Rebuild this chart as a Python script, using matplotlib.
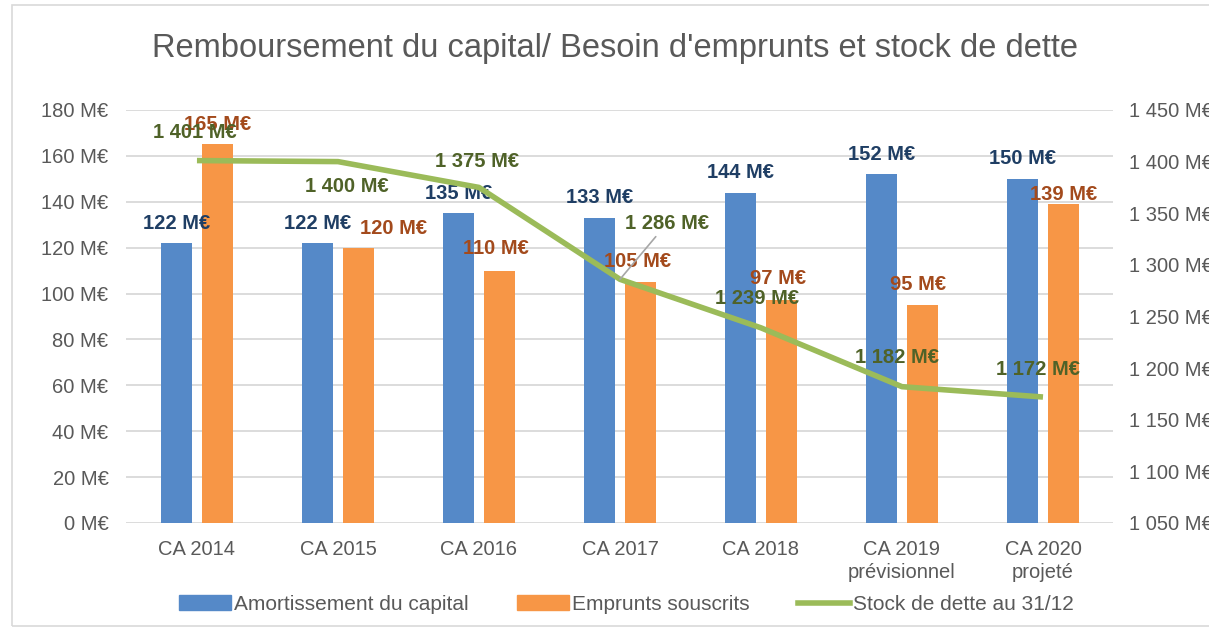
import matplotlib.pyplot as plt
from matplotlib.patches import Patch, Rectangle
from matplotlib.lines import Line2D

plt.rcParams['font.family'] = ['Liberation Sans', 'DejaVu Sans']

categories = ['CA 2014', 'CA 2015', 'CA 2016', 'CA 2017', 'CA 2018',
              'CA 2019\nprévisionnel', 'CA 2020\nprojeté']
amortissement = [122, 122, 135, 133, 144, 152, 150]
emprunts = [165, 120, 110, 105, 97, 95, 139]
stock = [1401, 1400, 1375, 1286, 1239, 1182, 1172]

# label offsets in pixels (dx, dy) relative to the mark top / point
emp_offsets = [(0, 20), (35, 19), (-3, 22), (-3, 21), (-3, 22), (-4, 21), (0, 10)]
stock_offsets = [(-2, 28), (9, -25), (-2, 26), (47, 56), (-4, 29), (-5, 29), (-5, 28)]

blue = '#5589C8'
orange = '#F79646'
green = '#9BBB59'

fig = plt.figure(figsize=(12.09, 6.27), dpi=100)
fig.patches.append(Rectangle((12 / 1209, 1 / 627), 1.1, 621 / 627,
                             transform=fig.transFigure, fill=False,
                             edgecolor='#D9D9D9', linewidth=1.2))

ax = fig.add_axes([0.1046, 0.1659, 0.8164, 0.6587])
ax2 = ax.twinx()

x = list(range(len(categories)))
w = 0.22
off = 0.145
xb = [i - off for i in x]
xo = [i + off for i in x]
ax.bar(xb, amortissement, width=w, color=blue, zorder=2)
ax.bar(xo, emprunts, width=w, color=orange, zorder=2)

ax.set_xlim(-0.5, len(categories) - 0.5)
ax.set_ylim(0, 180)
ax.set_yticks(range(0, 181, 20))
ax.set_yticklabels([f'{v} M€' for v in range(0, 181, 20)])
ax.yaxis.grid(True, color='#D9D9D9', linewidth=1.3, zorder=0)
ax.set_axisbelow(True)
ax.set_xticks(x)
ax.set_xticklabels(categories, linespacing=1.3)
ax.tick_params(axis='both', length=0, labelsize=14.5, colors='#595959')
ax.tick_params(axis='y', pad=13)
ax.tick_params(axis='x', pad=12)
for s in ax.spines.values():
    s.set_visible(False)

ax2.plot(x, stock, color=green, linewidth=4, solid_capstyle='butt', zorder=3)
ax2.set_ylim(1050, 1450)
ax2.set_yticks(range(1050, 1451, 50))
ax2.set_yticklabels([f'{v // 1000} {v % 1000:03d} M€' for v in range(1050, 1451, 50)])
ax2.tick_params(axis='y', length=0, labelsize=14.5, colors='#595959', pad=11)
for s in ax2.spines.values():
    s.set_visible(False)

px = 72 / 100
lab = dict(fontsize=14.5, fontweight='bold', ha='center', va='center',
           textcoords='offset points')
for xi, v in zip(xb, amortissement):
    ax.annotate(f'{v} M€', (xi, v), xytext=(0, 20 * px), color='#1F3E64', **lab)
for xi, v, (dx, dy) in zip(xo, emprunts, emp_offsets):
    ax.annotate(f'{v} M€', (xi, v), xytext=(dx * px, dy * px), color='#A34A1C', **lab)
for xi, v, (dx, dy) in zip(x, stock, stock_offsets):
    t = f'{v // 1000} {v % 1000:03d} M€'
    if xi == 3:
        ax2.annotate(t, (xi, v), xytext=(dx * px, dy * px), color='#4F6228',
                     arrowprops=dict(arrowstyle='-', color='#A6A6A6', lw=1.2,
                                     shrinkA=1, shrinkB=0), **lab)
    else:
        ax2.annotate(t, (xi, v), xytext=(dx * px, dy * px), color='#4F6228', **lab)

fig.text(0.509, 0.923, "Remboursement du capital/ Besoin d'emprunts et stock de dette",
         ha='center', va='center', fontsize=23.5, color='#595959')

handles = [Patch(color=blue), Patch(color=orange),
           Line2D([], [], color=green, linewidth=4)]
fig.legend(handles, ['Amortissement du capital', 'Emprunts souscrits',
                     'Stock de dette au 31/12'],
           loc='center', bbox_to_anchor=(0.518, 0.036), ncol=3, frameon=False,
           fontsize=15, handlelength=2.5, handleheight=0.7, handletextpad=0.15,
           columnspacing=2.3, labelcolor='#595959')

fig.savefig('out.png', dpi=100)
